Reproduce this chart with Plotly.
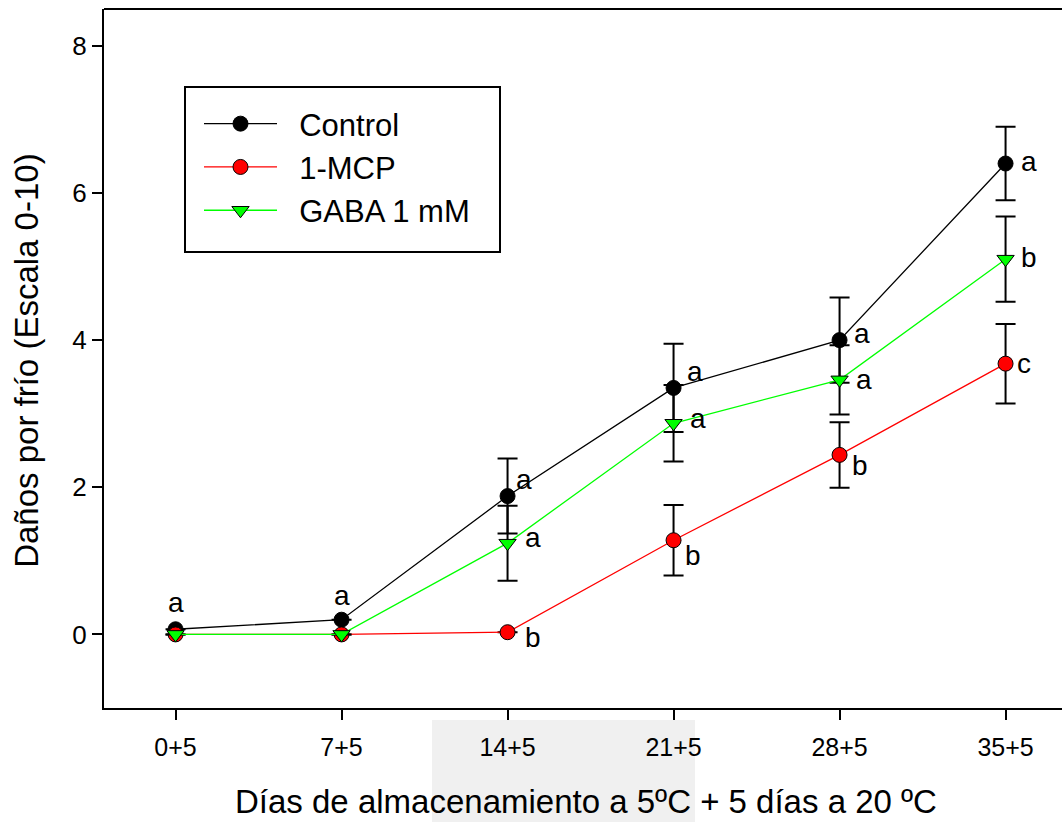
import plotly.graph_objects as go

days = ["0+5", "7+5", "14+5", "21+5", "28+5", "35+5"]

control = [0.07, 0.2, 1.88, 3.35, 4.0, 6.4]
control_err = [0, 0, 0.51, 0.6, 0.58, 0.5]
control_letters = ["a", "a", "a", "a", "a", "a"]

mcp = [0.0, 0.0, 0.03, 1.28, 2.44, 3.68]
mcp_err = [0, 0, 0, 0.48, 0.445, 0.54]
mcp_letters = ["", "", "b", "b", "b", "c"]

gaba = [0.0, 0.0, 1.24, 2.87, 3.46, 5.1]
gaba_err = [0, 0, 0.51, 0.52, 0.47, 0.58]
gaba_letters = ["", "", "a", "a", "a", "b"]

y_ticks = [0, 2, 4, 6, 8]

FONT = "Liberation Sans, Arial, sans-serif"
NB = "\u00a0\u00a0"

# label offsets (pixels: right, up)
control_off = [(0, 27), (0, 24), (16, 17), (21, 16), (22, 7), (23, 2)]
mcp_off = [(0, 0), (0, 0), (25, -5), (19, -15), (20, -11), (18, 0)]
gaba_off = [(0, 0), (0, 0), (25, 6), (24, 5), (24, 0), (23, 2)]

fig = go.Figure()

def add_series(name, y, err, color, symbol):
    fig.add_trace(go.Scatter(
        x=days, y=y, name=NB + name, mode="lines+markers",
        line=dict(color=color, width=1.3),
        marker=dict(color=color, size=15, symbol=symbol,
                    line=dict(color="black", width=1)),
        error_y=dict(type="data", array=err, visible=True,
                     color="black", thickness=2, width=10),
    ))

add_series("Control", control, control_err, "black", "circle")
add_series("1-MCP", mcp, mcp_err, "#ff0000", "circle")
add_series("GABA 1 mM", gaba, gaba_err, "#00ff00", "triangle-down")

annotations = []
for ys, letters, offs in [(control, control_letters, control_off),
                          (mcp, mcp_letters, mcp_off),
                          (gaba, gaba_letters, gaba_off)]:
    for d, v, t, (dx, dy) in zip(days, ys, letters, offs):
        if t:
            annotations.append(dict(
                x=d, y=v, xref="x", yref="y", text=t, showarrow=False,
                xshift=dx, yshift=dy,
                font=dict(family=FONT, size=28, color="black")))

PW, PH = 958, 699  # plot area size in px

annotations.append(dict(
    text="Días de almacenamiento a 5ºC + 5 días a 20 ºC",
    xref="paper", yref="paper", x=0.503, y=(708 - 801) / PH,
    xanchor="center", yanchor="middle", showarrow=False,
    font=dict(family=FONT, size=33, color="black")))
annotations.append(dict(
    text="Daños por frío (Escala 0-10)",
    xref="paper", yref="paper", x=-0.0804, y=0.498, textangle=-90,
    xanchor="center", yanchor="middle", showarrow=False,
    font=dict(family=FONT, size=33, color="black")))

fig.update_layout(
    width=1062, height=822,
    margin=dict(l=104, r=0, t=9, b=114),
    paper_bgcolor="white", plot_bgcolor="white",
    showlegend=True,
    legend=dict(
        x=(199 - 104) / PW, y=(708 - 97) / PH, xanchor="left", yanchor="top",
        borderwidth=0, bgcolor="rgba(0,0,0,0)",
        font=dict(family=FONT, size=31, color="black"),
        itemwidth=73, tracegroupgap=0,
    ),
    annotations=annotations,
    shapes=[
        dict(type="line", xref="paper", yref="paper", x0=0, x1=1, y0=1, y1=1,
             line=dict(color="black", width=2)),
        dict(type="rect", xref="paper", yref="paper",
             x0=(185 - 104) / PW, x1=(500 - 104) / PW,
             y0=(708 - 252) / PH, y1=(708 - 87) / PH,
             fillcolor="white", line=dict(color="black", width=2), layer="below"),
        dict(type="rect", xref="paper", yref="paper",
             x0=(432 - 104) / PW, x1=(695 - 104) / PW,
             y0=(708 - 822) / PH, y1=(708 - 720) / PH,
             fillcolor="#f0f0f0", line=dict(width=0), layer="below"),
    ],
)

fig.update_xaxes(
    type="category", range=[-0.431, 5.34],
    showline=True, linecolor="black", linewidth=2,
    ticks="outside", ticklen=10, tickwidth=2, tickcolor="black",
    ticklabelstandoff=6,
    showgrid=False, zeroline=False,
    tickfont=dict(family=FONT, size=25, color="black"),
)
fig.update_yaxes(
    range=[-1.0, 8.5], tickvals=y_ticks,
    showline=True, linecolor="black", linewidth=2,
    ticks="outside", ticklen=10, tickwidth=2, tickcolor="black",
    showgrid=False, zeroline=False,
    tickfont=dict(family=FONT, size=26, color="black"),
)

fig.write_html("out.html")
